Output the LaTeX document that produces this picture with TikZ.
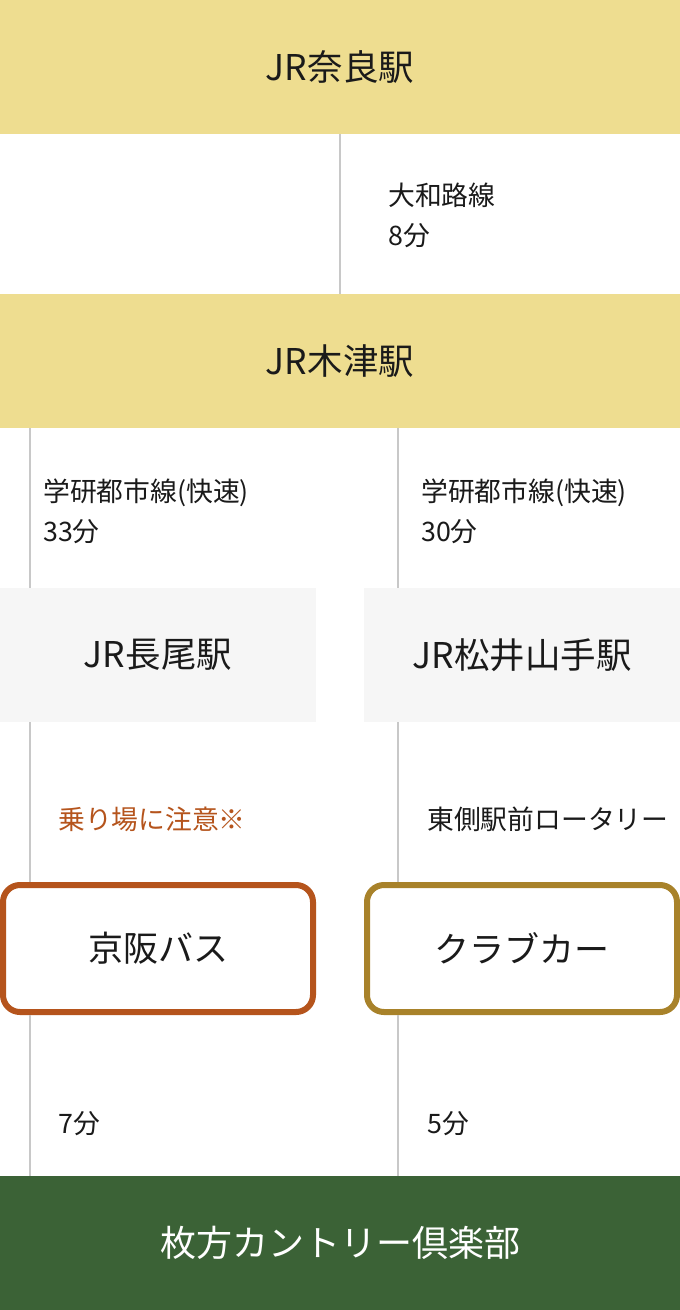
\documentclass[tikz,border=0pt]{standalone}
\usepackage{fontspec}
\setmainfont{Noto Sans CJK JP}
\definecolor{bandyellow}{RGB}{238,221,144}
\definecolor{bandgreen}{RGB}{59,98,54}
\definecolor{stgrey}{RGB}{246,246,246}
\definecolor{busorange}{RGB}{181,84,28}
\definecolor{cargold}{RGB}{168,130,42}
\definecolor{linegrey}{RGB}{200,200,200}
\definecolor{txt}{RGB}{26,26,26}
\begin{document}
\begin{tikzpicture}[x=1pt,y=-1pt,
  band/.style={fill=#1, minimum width=680pt, minimum height=134pt, inner sep=0pt, outer sep=0pt, font=\fontsize{35.5}{40}\selectfont, text=txt},
  station/.style={fill=stgrey, minimum width=316pt, minimum height=134pt, inner sep=0pt, outer sep=0pt, font=\fontsize{35.5}{40}\selectfont, text=txt},
  modebox/.style={draw=#1, fill=white, line width=6pt, rounded corners=17pt, minimum width=310pt, minimum height=127pt, inner sep=0pt, font=\fontsize{35}{40}\selectfont, text=txt},
  conn/.style={draw=linegrey, line width=1.6pt},
  lbl/.style={anchor=west, align=left, inner sep=0pt, font=\fontsize{26.8}{40}\selectfont, text=txt}
]
\useasboundingbox (0,0) rectangle (680,1310);
\fill[white] (0,0) rectangle (680,1310);
\node[band=bandyellow] (nara) at (340,67) {JR奈良駅};
\node[band=bandyellow] (kizu) at (340,361) {JR木津駅};
\node[station] (nagao) at (158,655) {JR長尾駅};
\node[station] (matsui) at (522,655) {JR松井山手駅};
\node[modebox=busorange] (keihan) at (158,948.5) {京阪バス};
\node[modebox=cargold] (car) at (522,948.5) {クラブカー};
\node[band=bandgreen, text=white, font=\fontsize{36}{40}\selectfont] (hirakata) at (340,1243) {枚方カントリー倶楽部};

\draw[conn] (nara.south) -- (kizu.north);
\draw[conn] ([xshift=30pt]kizu.south west) -- ([xshift=30pt]nagao.north west);
\draw[conn] ([xshift=398pt]kizu.south west) -- ([xshift=34pt]matsui.north west);
\draw[conn] ([xshift=30pt]nagao.south west) -- ([xshift=30pt]keihan.north west);
\draw[conn] ([xshift=34pt]matsui.south west) -- ([xshift=34pt]car.north west);
\draw[conn] ([xshift=30pt]keihan.south west) -- ([xshift=30pt]hirakata.north west);
\draw[conn] ([xshift=34pt]car.south west) -- ([xshift=398pt]hirakata.north west);

\node[lbl] (l1) at (388,215) {大和路線\\8分};
\node[lbl] (l2) at (43,511) {学研都市線(快速)\\33分};
\node[lbl] (l3) at (421,511) {学研都市線(快速)\\30分};
\node[lbl, text=busorange] (l4) at (58,819) {乗り場に注意※};
\node[lbl] (l5) at (427,819) {東側駅前ロータリー};
\node[lbl] (l6) at (58,1124) {7分};
\node[lbl] (l7) at (427,1124) {5分};
\end{tikzpicture}
\end{document}
